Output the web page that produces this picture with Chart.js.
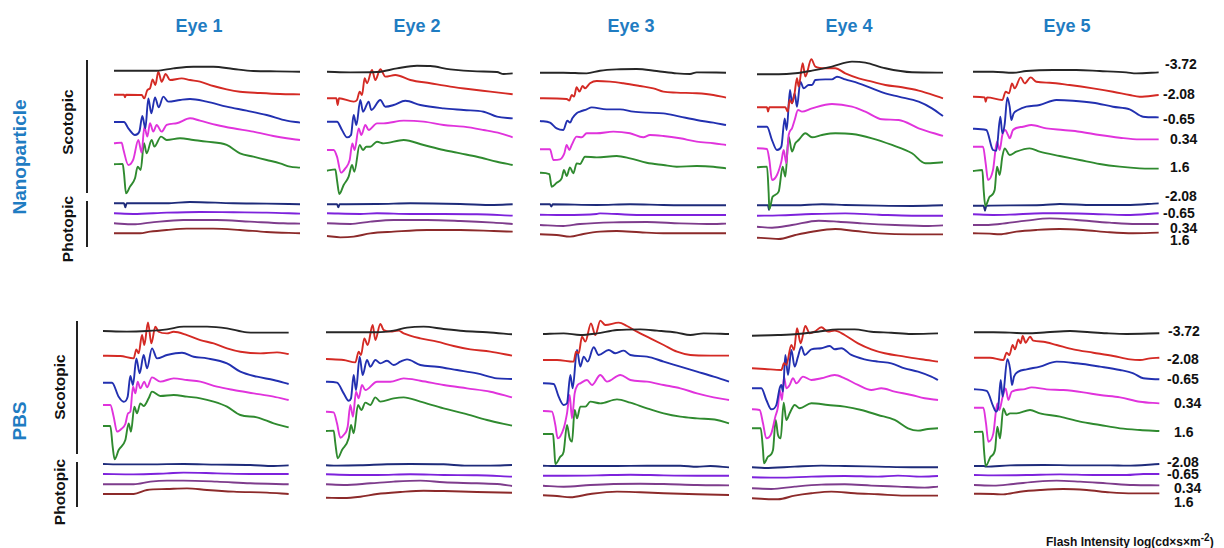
<!DOCTYPE html>
<html><head><meta charset="utf-8">
<script src="https://cdn.jsdelivr.net/npm/chart.js@4.4.1/dist/chart.umd.min.js"></script>
<style>
html,body{margin:0;padding:0;background:#fff;}
#root{position:relative;width:1224px;height:548px;overflow:hidden;font-family:"Liberation Sans",Arial,sans-serif;}
.t{position:absolute;white-space:nowrap;font-weight:bold;}
.eye{color:#1f7cc2;font-size:18px;transform:translate(-50%,-50%);}
.grp{color:#1f7cc2;font-size:19px;transform:translate(-50%,-50%) rotate(-90deg);}
.cond{color:#111;font-size:15.5px;transform:translate(-50%,-50%) rotate(-90deg);}
.int{color:#111;font-size:14px;transform:translateY(-50%);}
.vline{position:absolute;width:2px;background:#222;}
canvas{position:absolute;}
</style></head>
<body><div id="root"></div>
<script>
// ---- labels ----
const eyes = ['Eye 1','Eye 2','Eye 3','Eye 4','Eye 5'];
const groups = ['Nanoparticle','PBS'];
const conditions = ['Scotopic','Photopic'];
const scotopicIntensities = ['-3.72','-2.08','-0.65','0.34','1.6'];
const photopicIntensities = ['-2.08','-0.65','0.34','1.6'];
const xTitle = 'Flash Intensity log(cd\u00d7s\u00d7m<sup>-2</sup>)';

// ---- ERG traces: [time sample, amplitude] (sweep = 558 samples) ----
// Nanoparticle, Eye 1
const np1_black=[[0,0],[58,0],[128,0],[178,7],[238,12],[298,12],[358,5],[418,-1],[488,-2],[558,-3]];
const np1_red=[[0,0],[30,0],[33,-8],[36,0],[83,-1],[91,-11],[100,14],[108,19],[116,46],[124,29],[133,69],[143,39],[155,62],[168,44],[203,49],[228,44],[258,39],[298,26],[338,16],[378,9],[438,5],[498,2],[558,1]];
const np1_blue=[[0,0],[30,0],[43,-19],[63,-39],[76,-29],[85,18],[94,-19],[103,71],[112,26],[123,74],[134,44],[148,76],[163,61],[198,66],[228,69],[278,61],[338,46],[398,34],[458,21],[518,4],[558,-2]];
const np1_magenta=[[0,0],[23,2],[28,-18],[43,-65],[58,-48],[73,10],[83,-28],[91,50],[100,20],[108,60],[118,35],[128,55],[143,35],[158,55],[188,60],[228,75],[258,68],[308,55],[358,45],[418,35],[478,22],[518,15],[558,10]];
const np1_green=[[0,0],[26,1],[30,-27],[36,-87],[48,-67],[63,-42],[71,-7],[80,-17],[90,63],[98,33],[113,73],[121,53],[141,83],[158,73],[198,78],[238,73],[278,68],[338,58],[378,33],[418,23],[458,13],[498,3],[528,-7],[558,-10]];
const np1_ph208=[[0,0],[30,0],[34,-12],[38,0],[158,0],[228,4],[358,0],[458,-1],[558,-3]];
const np1_ph065=[[0,0],[58,-2],[158,2],[258,4],[358,3],[458,2],[558,-1]];
const np1_ph034=[[0,0],[58,-3],[108,2],[208,10],[308,10],[408,5],[508,0],[558,-1]];
const np1_ph16=[[0,0],[38,0],[78,0],[108,5],[158,10],[218,14],[298,14],[378,10],[458,4],[558,0]];
// Nanoparticle, Eye 2
const np2_black=[[0,0],[70,-2],[150,-1],[210,10],[270,18],[310,17],[370,7],[450,1],[510,-1],[530,-7],[557,-5]];
const np2_red=[[0,0],[28,0],[32,-20],[36,0],[80,-10],[90,-5],[98,20],[105,10],[113,60],[120,45],[135,85],[145,55],[160,87],[175,65],[205,70],[250,55],[310,45],[370,35],[430,27],[490,20],[557,12]];
const np2_blue=[[0,0],[30,0],[45,-25],[60,-47],[72,-40],[80,20],[88,-10],[100,65],[108,30],[125,60],[133,35],[160,65],[175,45],[200,50],[235,63],[280,50],[350,40],[410,35],[470,30],[510,15],[557,10]];
const np2_magenta=[[0,0],[20,0],[30,-20],[42,-68],[55,-55],[68,-30],[76,20],[83,0],[95,65],[103,45],[115,75],[125,60],[150,80],[170,80],[230,88],[290,85],[350,75],[410,70],[470,60],[520,50],[557,38]];
const np2_green=[[0,0],[25,4],[30,-28],[37,-70],[50,-43],[65,-18],[75,17],[82,-3],[98,77],[108,62],[118,72],[130,72],[150,87],[170,82],[230,92],[290,77],[350,62],[400,52],[450,42],[510,27],[557,17]];
const np2_ph208=[[0,0],[30,0],[34,-9],[38,0],[150,1],[250,3],[400,1],[500,-2],[557,0]];
const np2_ph065=[[0,0],[100,-2],[150,0],[250,-2],[350,-2],[450,-3],[557,-7]];
const np2_ph034=[[0,0],[70,-2],[130,5],[200,10],[300,10],[400,7],[500,2],[557,-2]];
const np2_ph16=[[0,0],[40,-4],[80,-2],[130,8],[200,13],[300,18],[400,18],[500,15],[557,13]];
// Nanoparticle, Eye 3
const np3_black=[[0,0],[70,0],[140,-2],[180,6],[230,10],[290,11],[350,5],[410,-2],[450,-4],[470,1],[558,0]];
const np3_red=[[0,0],[80,-2],[88,-7],[95,10],[102,5],[110,33],[118,20],[128,37],[135,30],[150,45],[170,52],[210,50],[250,45],[300,37],[340,30],[370,20],[410,17],[470,15],[520,10],[558,2]];
const np3_blue=[[0,0],[30,-5],[50,-22],[70,-27],[82,1],[90,-5],[97,8],[110,23],[120,28],[140,35],[155,41],[200,35],[240,35],[280,28],[320,25],[370,23],[420,13],[470,3],[520,-5],[558,-12]];
const np3_magenta=[[0,0],[30,0],[40,-32],[60,-30],[73,-12],[80,13],[88,-2],[95,13],[110,38],[125,36],[140,48],[170,48],[220,53],[270,48],[310,36],[330,43],[370,40],[420,33],[470,23],[520,18],[558,13]];
const np3_green=[[0,0],[28,-4],[35,-42],[50,-30],[65,-17],[72,8],[80,-10],[90,16],[100,-2],[110,28],[120,26],[135,48],[170,46],[230,50],[270,43],[320,30],[370,23],[410,18],[470,20],[520,18],[558,13]];
const np3_ph208=[[0,0],[30,0],[34,-7],[38,0],[170,-2],[270,0],[370,-2],[470,-3],[558,-3]];
const np3_ph065=[[0,0],[70,-1],[170,2],[180,4],[270,0],[370,-1],[470,-1],[558,-1]];
const np3_ph034=[[0,0],[70,-3],[120,3],[220,8],[320,9],[420,5],[520,3],[558,4]];
const np3_ph16=[[0,0],[50,-2],[90,-7],[130,1],[180,8],[230,10],[300,6],[370,3],[470,3],[558,3]];
// Nanoparticle, Eye 4
const np4_black=[[0,0],[65,0],[115,3],[165,11],[225,23],[285,38],[325,35],[385,18],[465,6],[558,5]];
const np4_red=[[0,0],[30,0],[33,-13],[37,0],[85,0],[92,-13],[98,22],[105,12],[112,37],[120,87],[125,62],[137,132],[145,92],[163,144],[175,122],[205,117],[235,117],[265,102],[305,87],[345,77],[385,67],[435,60],[485,50],[558,27]];
const np4_blue=[[0,0],[30,0],[45,-40],[60,-70],[73,-60],[83,25],[89,-10],[99,110],[105,70],[113,100],[120,60],[130,135],[140,115],[155,125],[165,125],[175,140],[205,142],[225,142],[240,150],[265,142],[305,130],[345,115],[385,100],[425,90],[485,75],[525,55],[558,32]];
const np4_magenta=[[0,0],[30,-2],[37,-35],[45,-95],[60,-80],[73,-40],[80,-5],[88,-45],[95,40],[105,60],[113,85],[123,115],[135,110],[165,120],[225,133],[285,125],[325,110],[375,87],[425,85],[485,60],[558,37]];
const np4_green=[[0,0],[30,2],[35,-78],[37,-126],[47,-88],[65,-73],[77,2],[85,-28],[95,92],[105,47],[115,72],[125,82],[145,102],[165,90],[195,97],[235,102],[285,100],[345,87],[405,67],[465,42],[505,12],[558,15]];
const np4_ph208=[[0,0],[33,0],[36,-14],[39,0],[115,0],[195,3],[265,1],[365,-1],[465,-2],[558,0]];
const np4_ph065=[[0,0],[65,1],[165,5],[265,7],[365,3],[465,0],[558,0]];
const np4_ph034=[[0,0],[45,-3],[105,5],[185,18],[245,15],[315,10],[415,5],[515,2],[558,4]];
const np4_ph16=[[0,0],[35,-2],[65,-4],[115,8],[165,18],[235,26],[295,20],[365,13],[465,10],[558,10]];
// Nanoparticle, Eye 5
const np5_black=[[0,0],[60,0],[120,-3],[160,2],[240,5],[310,5],[380,2],[460,-2],[490,-5],[557,-2]];
const np5_red=[[0,0],[35,-2],[38,-15],[42,-2],[88,-10],[98,15],[108,10],[117,40],[125,25],[143,58],[155,40],[173,58],[190,45],[230,42],[290,35],[360,25],[420,15],[470,5],[500,0],[557,5]];
const np5_blue=[[0,0],[40,-4],[60,-64],[70,-66],[82,36],[88,-14],[95,14],[103,94],[110,66],[115,26],[122,46],[135,56],[160,66],[200,71],[250,86],[300,84],[360,78],[420,66],[470,58],[510,36],[557,34]];
const np5_magenta=[[0,0],[30,0],[38,-50],[45,-100],[60,-70],[72,15],[80,-10],[88,35],[97,50],[105,35],[110,25],[120,50],[150,60],[175,65],[220,55],[270,50],[320,45],[380,35],[440,27],[500,22],[557,22]];
const np5_green=[[0,0],[28,3],[32,-57],[37,-105],[50,-77],[65,-57],[72,13],[80,-12],[88,43],[95,68],[110,48],[130,58],[170,68],[200,58],[260,45],[320,33],[380,21],[440,13],[500,8],[557,7]];
const np5_ph208=[[0,0],[32,0],[36,-15],[40,0],[110,1],[210,2],[260,5],[360,2],[460,2],[557,7]];
const np5_ph065=[[0,0],[60,-2],[110,-1],[210,3],[260,3],[360,1],[460,-2],[557,3]];
const np5_ph034=[[0,0],[40,0],[80,3],[160,13],[230,20],[310,15],[410,7],[490,3],[557,3]];
const np5_ph16=[[0,0],[50,-1],[80,-3],[130,5],[190,10],[260,13],[330,10],[410,3],[480,0],[557,2]];
// PBS, Eye 1
const pbs1_black=[[0,0],[72,-2],[132,0],[192,5],[242,13],[312,13],[372,8],[432,-4],[492,-5],[557,-5]];
const pbs1_red=[[0,0],[52,-1],[92,-8],[100,19],[107,7],[117,62],[124,32],[135,100],[145,37],[157,87],[167,72],[192,67],[212,72],[252,62],[292,47],[332,37],[372,22],[412,12],[472,7],[522,10],[557,5]];
const pbs1_blue=[[0,0],[27,0],[47,-42],[62,-57],[74,-42],[82,20],[90,-7],[100,73],[110,28],[122,83],[132,43],[147,103],[162,73],[192,83],[237,90],[272,78],[312,73],[372,58],[412,33],[462,18],[512,8],[557,-4]];
const pbs1_magenta=[[0,0],[22,0],[32,-35],[42,-80],[57,-70],[67,-57],[75,-25],[82,-20],[90,55],[97,35],[104,70],[112,50],[124,70],[132,53],[147,83],[172,70],[212,80],[252,75],[292,70],[342,55],[392,45],[452,35],[512,25],[557,15]];
const pbs1_green=[[0,0],[22,0],[29,-62],[35,-100],[47,-72],[67,-42],[77,8],[84,-17],[94,58],[102,38],[112,68],[122,60],[137,83],[147,103],[172,90],[212,93],[252,88],[292,83],[332,73],[372,58],[412,33],[462,26],[512,8],[557,-4]];
const pbs1_ph208=[[0,0],[42,-1],[142,-1],[242,0],[342,-2],[442,-3],[512,-6],[557,-4]];
const pbs1_ph065=[[0,0],[92,-1],[192,2],[242,4],[342,2],[442,0],[557,0]];
const pbs1_ph034=[[0,0],[92,0],[142,8],[192,11],[242,11],[342,8],[442,3],[557,0]];
const pbs1_ph16=[[0,0],[92,0],[132,12],[192,15],[252,17],[312,12],[392,7],[492,4],[557,0]];
// PBS, Eye 2
const pbs2_black=[[0,0],[73,0],[153,0],[203,5],[243,14],[293,17],[353,10],[413,4],[483,0],[558,-6]];
const pbs2_red=[[0,0],[53,-3],[88,-10],[98,22],[105,12],[115,62],[125,42],[140,102],[148,57],[163,105],[173,87],[193,82],[218,85],[233,77],[283,62],[333,52],[383,39],[433,29],[493,22],[558,10]];
const pbs2_blue=[[0,0],[33,-3],[53,-35],[68,-57],[75,-50],[83,20],[90,-25],[101,75],[110,20],[123,65],[133,45],[148,65],[163,55],[183,63],[203,50],[223,60],[243,67],[283,50],[333,45],[393,35],[453,25],[513,10],[558,8]];
const pbs2_magenta=[[0,0],[23,-2],[33,-35],[43,-78],[53,-70],[65,-45],[73,20],[81,-15],[90,60],[98,40],[108,80],[118,65],[153,90],[193,90],[233,100],[283,93],[353,80],[423,70],[493,60],[558,43]];
const pbs2_green=[[0,0],[23,1],[28,-37],[35,-82],[48,-57],[68,-22],[75,18],[83,-7],[96,78],[106,63],[118,85],[133,78],[148,101],[163,88],[203,98],[233,101],[283,88],[353,68],[413,53],[483,33],[558,16]];
const pbs2_ph208=[[0,0],[33,-1],[103,0],[183,3],[253,4],[353,3],[423,-1],[493,-1],[558,1]];
const pbs2_ph065=[[0,0],[73,-2],[153,-2],[253,0],[353,-2],[453,-3],[558,-7]];
const pbs2_ph034=[[0,0],[53,-2],[133,3],[203,8],[283,11],[353,6],[453,3],[523,0],[558,-5]];
const pbs2_ph16=[[0,0],[53,-1],[103,3],[153,11],[223,17],[293,21],[353,20],[453,17],[558,15]];
// PBS, Eye 3
const pbs3_black=[[0,0],[62,2],[112,-3],[162,2],[222,12],[292,14],[342,10],[402,4],[442,-3],[482,2],[558,0]];
const pbs3_red=[[0,0],[42,0],[92,-5],[99,25],[107,20],[117,70],[127,55],[144,110],[157,75],[172,118],[187,105],[227,112],[252,102],[282,85],[322,65],[362,45],[402,25],[442,15],[502,13],[558,13]];
const pbs3_blue=[[0,0],[32,-2],[47,-40],[62,-65],[72,-60],[82,25],[89,-15],[102,100],[112,50],[122,80],[134,65],[152,108],[167,85],[197,100],[217,90],[242,98],[262,85],[312,80],[362,65],[412,50],[462,35],[512,20],[558,5]];
const pbs3_magenta=[[0,0],[27,-2],[37,-42],[44,-82],[62,-52],[72,-7],[80,48],[87,-22],[95,53],[104,78],[112,83],[132,93],[147,78],[172,108],[192,88],[232,108],[262,93],[312,88],[362,78],[412,68],[462,53],[512,41],[558,33]];
const pbs3_green=[[0,0],[30,0],[34,-48],[37,-90],[52,-68],[62,-53],[72,27],[80,-13],[87,-23],[95,72],[102,47],[112,82],[127,82],[142,97],[172,92],[222,104],[262,94],[312,77],[362,62],[412,52],[462,47],[522,42],[558,32]];
const pbs3_ph208=[[0,0],[37,-1],[112,-1],[212,-1],[312,0],[412,0],[462,-3],[502,-1],[558,-5]];
const pbs3_ph065=[[0,0],[62,0],[162,1],[262,3],[362,1],[462,0],[558,0]];
const pbs3_ph034=[[0,0],[62,-3],[142,2],[212,5],[292,6],[362,5],[462,2],[558,1]];
const pbs3_ph16=[[0,0],[42,-2],[82,-6],[142,4],[222,11],[292,9],[362,6],[462,3],[558,1]];
// PBS, Eye 4
const pbs4_black=[[0,0],[78,2],[138,5],[198,12],[258,19],[308,19],[358,12],[418,9],[478,5],[558,7]];
const pbs4_red=[[0,0],[38,-2],[88,-5],[96,15],[103,10],[118,70],[126,55],[135,120],[146,75],[160,127],[173,105],[188,110],[208,123],[228,110],[248,113],[278,100],[318,75],[358,57],[398,45],[458,35],[508,27],[558,20]];
const pbs4_blue=[[0,0],[28,0],[43,-35],[58,-63],[73,-50],[83,0],[88,10],[93,-10],[100,100],[108,40],[118,115],[128,65],[138,95],[148,125],[158,100],[178,117],[208,120],[233,127],[248,117],[268,120],[298,100],[338,87],[378,80],[418,75],[458,60],[498,50],[538,35],[558,25]];
const pbs4_magenta=[[0,0],[23,-2],[33,-42],[43,-87],[58,-72],[70,-22],[78,8],[83,58],[90,28],[96,98],[103,63],[113,73],[123,93],[133,78],[153,98],[178,88],[208,93],[248,103],[278,93],[318,73],[358,58],[388,63],[428,53],[478,43],[518,33],[558,28]];
const pbs4_green=[[0,0],[26,0],[33,-65],[36,-105],[48,-85],[63,-65],[71,25],[78,-20],[86,-30],[95,77],[103,25],[113,45],[128,70],[143,60],[178,75],[228,70],[278,65],[328,55],[378,40],[428,25],[468,0],[498,-7],[528,-2],[558,0]];
const pbs4_ph208=[[0,0],[38,-2],[128,2],[208,5],[278,4],[378,2],[478,0],[558,0]];
const pbs4_ph065=[[0,0],[78,-1],[178,2],[278,4],[378,2],[438,5],[508,2],[558,4]];
const pbs4_ph034=[[0,0],[58,-2],[128,5],[208,11],[278,12],[358,8],[438,5],[518,2],[558,5]];
const pbs4_ph16=[[0,0],[38,-2],[78,-3],[128,8],[178,15],[238,20],[308,15],[378,12],[458,8],[558,8]];
// PBS, Eye 5
const pbs5_black=[[0,0],[58,0],[108,-1],[158,-3],[218,0],[288,4],[348,0],[398,-3],[458,-5],[556,-3]];
const pbs5_red=[[0,0],[48,0],[88,-7],[98,15],[106,8],[116,38],[123,25],[133,55],[140,43],[146,65],[155,45],[168,63],[178,51],[208,48],[248,38],[298,25],[358,15],[418,5],[468,-5],[498,-7],[528,-2],[556,0]];
const pbs5_blue=[[0,0],[38,-5],[58,-52],[66,-67],[73,-52],[80,28],[86,-22],[100,90],[108,63],[114,13],[120,38],[133,53],[158,60],[198,68],[248,83],[308,78],[378,68],[438,58],[478,48],[508,33],[556,30]];
const pbs5_magenta=[[0,0],[28,0],[36,-47],[43,-102],[58,-77],[70,13],[76,-7],[86,33],[95,58],[103,23],[113,48],[148,55],[173,61],[218,55],[268,53],[328,46],[378,38],[438,31],[498,18],[556,13]];
const pbs5_green=[[0,0],[26,1],[30,-54],[35,-102],[50,-74],[63,-54],[70,16],[78,-19],[88,71],[98,51],[108,56],[128,56],[168,66],[198,56],[258,46],[318,31],[378,21],[438,11],[498,6],[556,3]];
const pbs5_ph208=[[0,0],[30,0],[36,-2],[108,2],[208,3],[308,2],[408,2],[458,1],[556,6]];
const pbs5_ph065=[[0,0],[58,-1],[158,0],[258,2],[358,0],[458,0],[508,3],[556,3]];
const pbs5_ph034=[[0,0],[58,-2],[118,3],[188,10],[248,13],[318,10],[398,5],[478,0],[556,-1]];
const pbs5_ph16=[[0,0],[58,-1],[88,-2],[138,6],[198,11],[268,14],[338,11],[408,4],[478,1],[556,1]];

// ---- presentation (layout / styles) ----
const SWEEP = 558;           // samples per sweep
const UNITS_PER_PX = 3;      // amplitude units per pixel
const traceColors = ['#262626','#d42a24','#2230b0','#e033dc','#2f8a2f','#1e2b7a','#7d22dc','#7e3c8c','#8c2a2a'];
const panels = [
  {x0:114,   top:50,  h:200, base:[70.7,94.7,122,143.3,164.3,203.3,213.3,223.3,233.3], traces:[np1_black,np1_red,np1_blue,np1_magenta,np1_green,np1_ph208,np1_ph065,np1_ph034,np1_ph16]},
  {x0:326.7, top:50,  h:200, base:[71.7,98.3,121.7,150,170.7,204.3,213.3,223.3,236], traces:[np2_black,np2_red,np2_blue,np2_magenta,np2_green,np2_ph208,np2_ph065,np2_ph034,np2_ph16]},
  {x0:540,   top:50,  h:200, base:[72.7,98.3,121,149.3,172.7,204.3,214.7,225,234.3], traces:[np3_black,np3_red,np3_blue,np3_magenta,np3_green,np3_ph208,np3_ph065,np3_ph034,np3_ph16]},
  {x0:756.7, top:50,  h:200, base:[74.3,107.3,126.7,148.3,167.3,205.3,215.7,226.7,237.7], traces:[np4_black,np4_red,np4_blue,np4_magenta,np4_green,np4_ph208,np4_ph065,np4_ph034,np4_ph16]},
  {x0:973.3, top:50,  h:200, base:[71.7,96.7,128.7,146.7,171,205.7,214.3,225,233.3], traces:[np5_black,np5_red,np5_blue,np5_magenta,np5_green,np5_ph208,np5_ph065,np5_ph034,np5_ph16]},
  {x0:102.7, top:305, h:210, base:[331,355.7,382.7,405,426,464,474,484.3,494], traces:[pbs1_black,pbs1_red,pbs1_blue,pbs1_magenta,pbs1_green,pbs1_ph208,pbs1_ph065,pbs1_ph034,pbs1_ph16]},
  {x0:325.7, top:305, h:210, base:[332.3,359,381.7,411.7,431,465.3,474.3,484.3,497.7], traces:[pbs2_black,pbs2_red,pbs2_blue,pbs2_magenta,pbs2_green,pbs2_ph208,pbs2_ph065,pbs2_ph034,pbs2_ph16]},
  {x0:542.7, top:305, h:210, base:[334,360,383.3,411,434,465.7,475.7,485.7,495.3], traces:[pbs3_black,pbs3_red,pbs3_blue,pbs3_magenta,pbs3_green,pbs3_ph208,pbs3_ph065,pbs3_ph034,pbs3_ph16]},
  {x0:752.3, top:305, h:210, base:[335.7,368.3,388.3,409.3,428.3,467.3,477.3,488.3,498.3], traces:[pbs4_black,pbs4_red,pbs4_blue,pbs4_magenta,pbs4_green,pbs4_ph208,pbs4_ph065,pbs4_ph034,pbs4_ph16]},
  {x0:974,   top:305, h:210, base:[332.3,357.7,389.3,407.7,432,466,475,485,493.7], traces:[pbs5_black,pbs5_red,pbs5_blue,pbs5_magenta,pbs5_green,pbs5_ph208,pbs5_ph065,pbs5_ph034,pbs5_ph16]}
];

const root = document.getElementById('root');
function addText(cls, html, x, y, extra){
  const d = document.createElement('div');
  d.className = 't ' + cls; d.innerHTML = html;
  d.style.left = x + 'px'; d.style.top = y + 'px';
  if (extra) Object.assign(d.style, extra);
  root.appendChild(d); return d;
}
function addLine(x, y1, y2){
  const d = document.createElement('div'); d.className = 'vline';
  d.style.left = x + 'px'; d.style.top = y1 + 'px'; d.style.height = (y2 - y1) + 'px';
  root.appendChild(d);
}

const PAD = 4;
panels.forEach(p => {
  const c = document.createElement('canvas');
  const w = SWEEP / UNITS_PER_PX + 2 * PAD;
  c.width = w; c.height = p.h;
  c.style.left = (p.x0 - PAD) + 'px'; c.style.top = p.top + 'px';
  c.style.width = w + 'px'; c.style.height = p.h + 'px';
  root.appendChild(c);
  new Chart(c, {
    type: 'line',
    data: {
      datasets: p.traces.map((tr, i) => ({
        data: tr.map(pt => ({x: pt[0], y: pt[1] - UNITS_PER_PX * (p.base[i] - p.top)})),
        borderColor: traceColors[i],
        borderWidth: 1.9,
        pointRadius: 0,
        fill: false,
        cubicInterpolationMode: 'monotone',
        clip: false
      }))
    },
    options: {
      responsive: false, animation: false, events: [],
      layout: {padding: {left: PAD, right: PAD, top: 0, bottom: 0}},
      scales: {
        x: {type: 'linear', min: 0, max: SWEEP, display: false},
        y: {type: 'linear', min: -UNITS_PER_PX * p.h, max: 0, display: false}
      },
      plugins: {legend: {display: false}, tooltip: {enabled: false}}
    }
  });
});

// titles
const eyeX = [199, 417, 631, 849, 1067];
eyes.forEach((e, i) => addText('eye', e, eyeX[i], 26));
addText('grp', groups[0], 20, 157);
addText('grp', groups[1], 20, 421);
addText('cond', conditions[0], 68, 122);
addText('cond', conditions[1], 68, 229);
addText('cond', conditions[0], 60, 387);
addText('cond', conditions[1], 60, 492);
addLine(86, 60, 193); addLine(86, 201, 247);
addLine(76, 321, 454); addLine(76, 462, 507);

// intensity labels
const topScoY = [64, 94, 119, 139, 167], topPhoY = [196, 213, 228, 240];
const botScoY = [331, 359, 379, 403, 432], botPhoY = [462, 474, 488, 502];
scotopicIntensities.forEach((s, i) => {
  const off = s.startsWith('-') ? 0 : 7;
  addText('int', s, (i === 0 ? 1165 : 1163) + off, topScoY[i]);
  addText('int', s, 1168 + off - (i === 0 ? 0 : 1), botScoY[i]);
});
photopicIntensities.forEach((s, i) => {
  const off = s.startsWith('-') ? 0 : 7;
  addText('int', s, (i === 0 ? 1165 : 1163) + off, topPhoY[i]);
  addText('int', s, 1167 + off, botPhoY[i]);
});
addText('int', xTitle, 1046, 540, {fontSize: '12px'});
</script>
</body></html>
